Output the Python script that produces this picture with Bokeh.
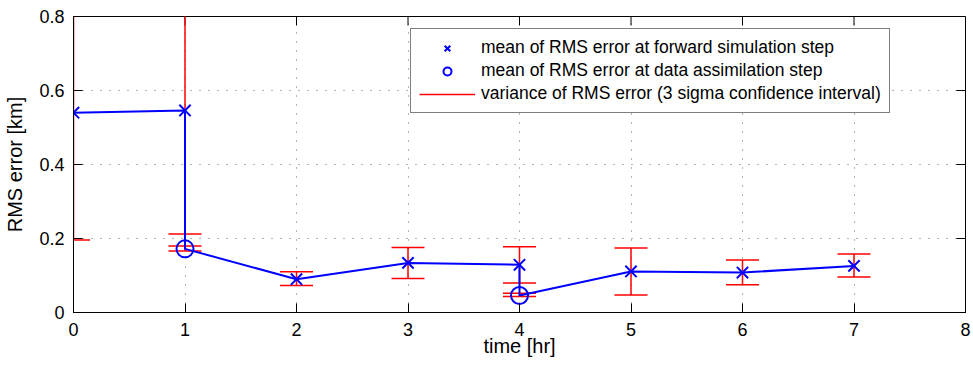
import math
from bokeh.plotting import figure
from bokeh.models import Range1d, FixedTicker, Legend, LegendItem, NumeralTickFormatter
from bokeh.embed import file_html
from bokeh.resources import INLINE

# ---- data ----
times_fwd = [0, 1, 2, 3, 4, 5, 6, 7]
rms_fwd = [0.540, 0.546, 0.090, 0.134, 0.129, 0.111, 0.108, 0.126]
fwd_lower = [0.196, 0.212, 0.073, 0.092, 0.080, 0.047, 0.075, 0.096]
fwd_upper = [0.884, 0.880, 0.110, 0.176, 0.178, 0.174, 0.142, 0.158]

times_da = [1, 4]
rms_da = [0.172, 0.046]
da_lower = [0.166, 0.043]
da_upper = [0.180, 0.052]

x_ticks = [0, 1, 2, 3, 4, 5, 6, 7, 8]
y_ticks = [0, 0.2, 0.4, 0.6, 0.8]

labels = ["mean of RMS error at forward simulation step",
          "mean of RMS error at data assimilation step",
          "variance of RMS error (3 sigma confidence interval)"]

# path: forward value, then assimilation value at the same time if present
path_t, path_v = [], []
for t, v in zip(times_fwd, rms_fwd):
    path_t.append(t); path_v.append(v)
    if t in times_da:
        i = times_da.index(t)
        path_t.append(t); path_v.append(rms_da[i])

err_t = times_fwd + times_da
err_lo = fwd_lower + da_lower
err_hi = fwd_upper + da_upper

x_min, x_max = x_ticks[0], x_ticks[-1]
y_min, y_max = y_ticks[0], y_ticks[-1]

FONT = "Liberation Sans"
TICK_FS = "18px"
LABEL_FS = "20px"
LEG_FS = "17.5px"
TICK_LEN = 9

p = figure(width=973, height=365, output_backend="svg", toolbar_location=None,
           x_range=Range1d(x_min, x_max), y_range=Range1d(y_min, y_max),
           min_border_left=73, min_border_right=8, min_border_top=16,
           min_border_bottom=53)
p.background_fill_color = "white"
p.border_fill_color = "white"
p.outline_line_color = "black"
p.outline_line_width = 1

p.xaxis.ticker = FixedTicker(ticks=x_ticks)
p.yaxis.ticker = FixedTicker(ticks=y_ticks)
p.yaxis.formatter = NumeralTickFormatter(format="0.[0]")
p.xaxis.axis_label = "time [hr]"
p.yaxis.axis_label = "RMS error [km]"
for ax in (p.xaxis, p.yaxis):
    ax.axis_label_text_font = FONT
    ax.axis_label_text_font_size = LABEL_FS
    ax.axis_label_text_font_style = "normal"
    ax.axis_label_text_color = "black"
    ax.major_label_text_font = FONT
    ax.major_label_text_font_size = TICK_FS
    ax.major_label_text_color = "black"
    ax.major_tick_in = TICK_LEN
    ax.major_tick_out = 0
    ax.major_tick_line_color = "black"
    ax.minor_tick_line_color = None
    ax.axis_line_color = "black"
p.xaxis.major_label_standoff = 10
p.xaxis.axis_label_standoff = -4
p.yaxis.major_label_standoff = 9
p.yaxis.axis_label_standoff = 10

for g in (p.xgrid, p.ygrid):
    g.grid_line_color = "black"
    g.grid_line_alpha = 0.6
    g.grid_line_dash = "1 8"
    g.grid_line_width = 1

# inward ticks on the top and right edges of the box
p.ray(x=x_ticks, y=[y_max] * len(x_ticks), length=TICK_LEN, length_units="screen",
      angle=-math.pi / 2, line_color="black", line_width=1)
p.ray(x=[x_max] * len(y_ticks), y=y_ticks, length=TICK_LEN, length_units="screen",
      angle=math.pi, line_color="black", line_width=1)

# error bars
seg = p.segment(x0=err_t, y0=err_lo, x1=err_t, y1=err_hi,
                line_color="red", line_width=1.5)
p.scatter(x=err_t, y=err_lo, marker="dash", size=33, line_color="red", line_width=1.5)
p.scatter(x=err_t, y=err_hi, marker="dash", size=33, line_color="red", line_width=1.5)

# mean path
p.line(path_t, path_v, line_color="#0000ff", line_width=2)
fwd = p.scatter(x=times_fwd, y=rms_fwd, marker="x", size=16,
                line_color="#0000ff", line_width=2)
da = p.scatter(x=times_da, y=rms_da, marker="circle", size=17,
               line_color="#0000ff", line_width=2, fill_color=None)

legend = Legend(items=[LegendItem(label=labels[0], renderers=[fwd]),
                       LegendItem(label=labels[1], renderers=[da]),
                       LegendItem(label=labels[2], renderers=[seg])],
                location=(337, 199))
legend.label_text_font = FONT
legend.label_text_font_size = LEG_FS
legend.label_text_color = "black"
legend.glyph_width = 56
legend.label_standoff = 6
legend.padding = 8
legend.spacing = 2
legend.margin = 0
legend.border_line_color = "black"
legend.border_line_width = 1
legend.background_fill_color = "white"
legend.background_fill_alpha = 1
p.add_layout(legend, "center")

open("out.html", "w").write(file_html(p, INLINE))
